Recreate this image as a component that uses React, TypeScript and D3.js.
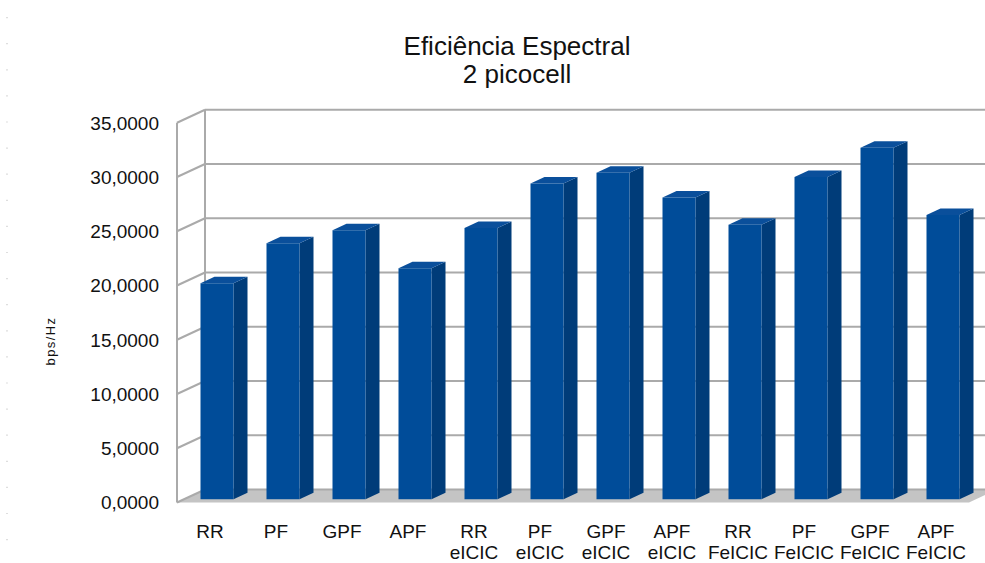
import React from "react";
import * as d3 from "d3";

// Spectral efficiency per scheduler, 2 picocells
const schedulers = ["RR", "PF", "GPF", "APF", "RR", "PF", "GPF", "APF", "RR", "PF", "GPF", "APF"];
const variants = ["", "", "", "", "eICIC", "eICIC", "eICIC", "eICIC", "FeICIC", "FeICIC", "FeICIC", "FeICIC"];
const efficiency = [19.9, 23.6, 24.8, 21.3, 25.0, 29.1, 30.1, 27.8, 25.3, 29.7, 32.4, 26.2];
const yTicks = [0, 5, 10, 15, 20, 25, 30, 35];

const W = 985;
const H = 563;
const FONT = "'Liberation Sans', Arial, sans-serif";

// oblique projection: front plane plus a depth vector towards the back wall
const DEPTH_X = 28;
const DEPTH_Y = -13;
const plotLeft = 177;
const plotRight = 969;

export default function App() {
  const ids = schedulers.map((_, i) => String(i));
  const x = d3.scaleBand<string>().domain(ids).range([plotLeft, plotRight]).paddingInner(0.5).paddingOuter(0.25);
  const y = d3.scaleLinear().domain([0, 35]).range([502.5, 122.75]);
  const fmt = (v: number) => d3.format(".4f")(v).replace(".", ",");

  // project (front-plane x, value, depth 0..1) onto the screen
  const P = (px: number, v: number, z: number): [number, number] => [px + z * DEPTH_X, y(v) + z * DEPTH_Y];
  const poly = (pts: [number, number][]) => pts.map((p) => p.join(",")).join(" ");

  const gridColor = "#aaaaaa";
  const z0 = 0.25;
  const z1 = 0.75;

  return (
    <div style={{ position: "fixed", left: 0, top: 0 }}>
      <svg width={W} height={H} style={{ display: "block", background: "#fff" }}>
        {/* faint dotted margin */}
        <line x1={7} x2={7} y1={17} y2={H} stroke="#c8c8c8" strokeWidth={1.2} strokeDasharray="1.2 24.9" />

        {/* title */}
        <text x={517} y={55} textAnchor="middle" fontFamily={FONT} fontSize={26} fill="#111">
          Eficiência Espectral
        </text>
        <text x={517} y={83} textAnchor="middle" fontFamily={FONT} fontSize={26} fill="#111">
          2 picocell
        </text>

        {/* floor */}
        <polygon
          points={poly([P(plotLeft, 0, 0), P(plotRight, 0, 0), P(plotRight, 0, 1), P(plotLeft, 0, 1)])}
          fill="#c4c4c4"
        />

        {/* back wall grid */}
        {yTicks.map((t) => {
          const [bx, by] = P(plotLeft, t, 1);
          const [ex] = P(plotRight, t, 1);
          return <line key={"g" + t} x1={bx} x2={ex} y1={by} y2={by} stroke={gridColor} strokeWidth={2} />;
        })}

        {/* left wall */}
        {yTicks.map((t) => {
          const [fx, fy] = P(plotLeft, t, 0);
          const [bx, by] = P(plotLeft, t, 1);
          return <line key={"d" + t} x1={fx} y1={fy} x2={bx} y2={by} stroke={gridColor} strokeWidth={2} />;
        })}
        <line
          x1={P(plotLeft, 35, 0)[0]} y1={P(plotLeft, 35, 0)[1]}
          x2={P(plotLeft, 0, 0)[0]} y2={P(plotLeft, 0, 0)[1]}
          stroke={gridColor} strokeWidth={2}
        />
        <line
          x1={P(plotLeft, 35, 1)[0]} y1={P(plotLeft, 35, 1)[1]}
          x2={P(plotLeft, 0, 1)[0]} y2={P(plotLeft, 0, 1)[1]}
          stroke={gridColor} strokeWidth={2}
        />

        {/* bars */}
        {efficiency.map((v, i) => {
          const xl = x(ids[i]) as number;
          const xr = xl + x.bandwidth();
          const front = poly([P(xl, 0, z0), P(xr, 0, z0), P(xr, v, z0), P(xl, v, z0)]);
          const side = poly([P(xr, 0, z0), P(xr, 0, z1), P(xr, v, z1), P(xr, v, z0)]);
          const top = poly([P(xl, v, z0), P(xr, v, z0), P(xr, v, z1), P(xl, v, z1)]);
          return (
            <g key={"b" + i}>
              <polygon points={side} fill="#003c79" />
              <polygon points={top} fill="#0a4f9b" />
              <polygon points={front} fill="#004c99" />
            </g>
          );
        })}

        {/* y tick labels */}
        {yTicks.map((t) => (
          <text
            key={"t" + t}
            x={159}
            y={y(t)}
            dy="0.36em"
            textAnchor="end"
            fontFamily={FONT}
            fontSize={19}
            fill="#111"
          >
            {fmt(t)}
          </text>
        ))}

        {/* y axis title */}
        <text
          transform="translate(55,341) rotate(-90)"
          textAnchor="middle"
          fontFamily={FONT}
          fontSize={13}
          letterSpacing={1.4}
          fill="#111"
        >
          bps/Hz
        </text>

        {/* category labels */}
        {schedulers.map((s, i) => {
          const cx = (x(ids[i]) as number) + x.bandwidth() / 2;
          return (
            <g key={"c" + i}>
              <text x={cx} y={538} textAnchor="middle" fontFamily={FONT} fontSize={19} fill="#111">
                {s}
              </text>
              {variants[i] && (
                <text x={cx} y={559} textAnchor="middle" fontFamily={FONT} fontSize={19} fill="#111">
                  {variants[i]}
                </text>
              )}
            </g>
          );
        })}
      </svg>
    </div>
  );
}
